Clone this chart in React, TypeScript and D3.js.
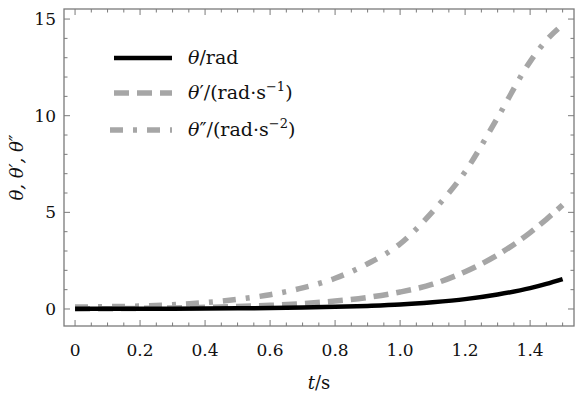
import React from "react"
import * as d3 from "d3"

// sample times (s)
const times = [0, 0.1, 0.2, 0.3, 0.4, 0.5, 0.6, 0.7, 0.8, 0.9, 1.0, 1.1, 1.2, 1.3, 1.4, 1.45, 1.5]

// values
const theta = [0.01, 0.011, 0.013, 0.017, 0.024, 0.035, 0.05, 0.074, 0.11, 0.16, 0.23, 0.35, 0.51, 0.75, 1.08, 1.3, 1.55]
const thetaDot = [0, 0.015, 0.032, 0.054, 0.085, 0.13, 0.19, 0.28, 0.41, 0.6, 0.88, 1.28, 1.93, 2.8, 3.95, 4.64, 5.38]
const thetaDdot = [0.1, 0.12, 0.15, 0.22, 0.33, 0.5, 0.74, 1.09, 1.59, 2.34, 3.37, 5.04, 7.1, 9.9, 12.8, 13.9, 14.7]

const xTicks = [0, 0.2, 0.4, 0.6, 0.8, 1.0, 1.2, 1.4]
const xTickLabels = ["0", "0.2", "0.4", "0.6", "0.8", "1.0", "1.2", "1.4"]
const yTicks = [0, 5, 10, 15]
const yTickLabels = ["0", "5", "10", "15"]

const W = 585
const H = 397
const left = 64
const right = 574
const top = 9
const bottom = 326

const FONT = "DejaVu Serif, serif"
const FRAME = "#7a7a7a"
const GRAY = "#a6a6a6"

const App: React.FC = () => {
  const x = d3.scaleLinear().domain([-0.034, 1.535]).range([left, right])
  const y = d3.scaleLinear().domain([-0.88, 15.52]).range([bottom, top])

  const line = d3
    .line<number>()
    .x((_, i) => x(times[i]))
    .y((d) => y(d))
    .curve(d3.curveMonotoneX)

  const xMinor = d3.range(0, 1.5001, 0.05).filter((t) => !xTicks.some((m) => Math.abs(m - t) < 1e-6))
  const yMinor = d3.range(0, 15.001, 1).filter((v) => !yTicks.includes(v))

  const series = [
    { data: thetaDdot, color: GRAY, width: 5.5, dash: "13,10,4,10" },
    { data: thetaDot, color: GRAY, width: 5.5, dash: "15,8" },
    { data: theta, color: "#000", width: 4.5, dash: null as string | null },
  ]

  const legendY = [58, 93, 130]
  const legendItems = [series[2], series[1], series[0]]
  const txt = { fontFamily: FONT }

  return (
    <svg
      width={W}
      height={H}
      style={{ position: "absolute", left: 0, top: 0, background: "#fff", fontFamily: FONT }}
    >
      <defs>
        <clipPath id="plot">
          <rect x={left} y={top} width={right - left} height={bottom - top} />
        </clipPath>
      </defs>

      {/* curves */}
      <g clipPath="url(#plot)">
        {series.map((s, i) => (
          <path
            key={i}
            d={line(s.data) || ""}
            fill="none"
            stroke={s.color}
            strokeWidth={s.width}
            strokeDasharray={s.dash || undefined}
          />
        ))}
      </g>

      {/* frame */}
      <rect x={left} y={top} width={right - left} height={bottom - top} fill="none" stroke={FRAME} strokeWidth={1.3} />

      {/* x ticks, bottom and top */}
      {xTicks.map((t) => (
        <g key={"xt" + t} stroke={FRAME} strokeWidth={1}>
          <line x1={x(t)} x2={x(t)} y1={bottom} y2={bottom - 6} />
          <line x1={x(t)} x2={x(t)} y1={top} y2={top + 6} />
        </g>
      ))}
      {xMinor.map((t) => (
        <g key={"xm" + t} stroke={FRAME} strokeWidth={1}>
          <line x1={x(t)} x2={x(t)} y1={bottom} y2={bottom - 3.5} />
          <line x1={x(t)} x2={x(t)} y1={top} y2={top + 3.5} />
        </g>
      ))}

      {/* y ticks, left and right */}
      {yTicks.map((v) => (
        <g key={"yt" + v} stroke={FRAME} strokeWidth={1}>
          <line x1={left} x2={left + 6} y1={y(v)} y2={y(v)} />
          <line x1={right} x2={right - 6} y1={y(v)} y2={y(v)} />
        </g>
      ))}
      {yMinor.map((v) => (
        <g key={"ym" + v} stroke={FRAME} strokeWidth={1}>
          <line x1={left} x2={left + 3.5} y1={y(v)} y2={y(v)} />
          <line x1={right} x2={right - 3.5} y1={y(v)} y2={y(v)} />
        </g>
      ))}

      {/* tick labels */}
      {xTicks.map((t, i) => (
        <text key={"xl" + t} x={x(t)} y={356} textAnchor="middle" fontSize={17} fill="#111" style={txt}>
          {xTickLabels[i]}
        </text>
      ))}
      {yTicks.map((v, i) => (
        <text key={"yl" + v} x={56} y={y(v) + 6} textAnchor="end" fontSize={17} fill="#111" style={txt}>
          {yTickLabels[i]}
        </text>
      ))}

      {/* axis titles */}
      <text x={(left + right) / 2} y={389} textAnchor="middle" fontSize={18} fill="#111" style={txt}>
        <tspan fontStyle="italic">t</tspan>/s
      </text>
      <text
        transform={`translate(23,${(top + bottom) / 2}) rotate(-90)`}
        textAnchor="middle"
        fontSize={18}
        fill="#111"
        fontStyle="italic"
        style={txt}
      >
        θ, θ′, θ″
      </text>

      {/* legend */}
      {legendItems.map((s, i) => (
        <line
          key={"lg" + i}
          x1={i === 2 ? 110 : 114}
          x2={172}
          y1={legendY[i]}
          y2={legendY[i]}
          stroke={s.color}
          strokeWidth={s.width}
          strokeDasharray={s.dash || undefined}
        />
      ))}
      <text x={188} y={legendY[0] + 6} fontSize={19} fill="#111" style={txt}>
        <tspan fontStyle="italic">θ</tspan>/rad
      </text>
      <text x={188} y={legendY[1] + 6} fontSize={19} fill="#111" style={txt}>
        <tspan fontStyle="italic">θ</tspan>′/(rad·s
        <tspan dy={-8} fontSize={13}>−1</tspan>
        <tspan dy={8}>)</tspan>
      </text>
      <text x={188} y={legendY[2] + 6} fontSize={19} fill="#111" style={txt}>
        <tspan fontStyle="italic">θ</tspan>″/(rad·s
        <tspan dy={-8} fontSize={13}>−2</tspan>
        <tspan dy={8}>)</tspan>
      </text>
    </svg>
  )
}

export default App
